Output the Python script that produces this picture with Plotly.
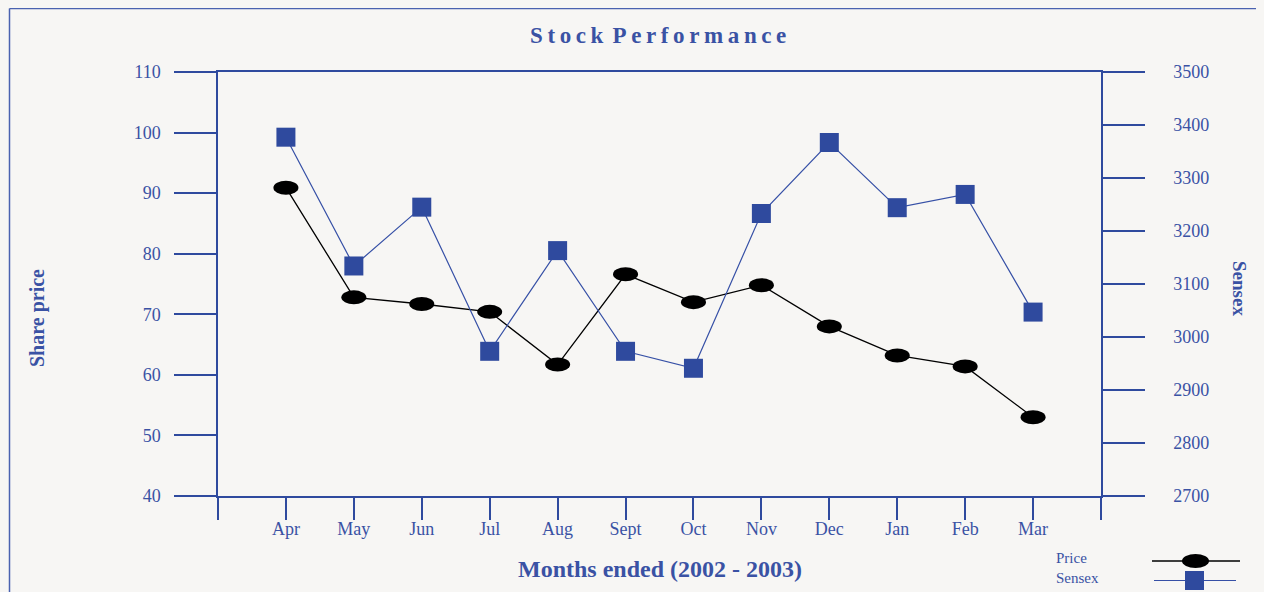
import plotly.graph_objects as go

# data
months = ["Apr", "May", "Jun", "Jul", "Aug", "Sept", "Oct", "Nov", "Dec", "Jan", "Feb", "Mar"]
price = [90.9, 72.8, 71.7, 70.4, 61.7, 76.6, 72.0, 74.8, 68.0, 63.2, 61.4, 53.0]
sensex = [3377, 3134, 3245, 2973, 3163, 2973, 2941, 3233, 3367, 3244, 3269, 3047]
price_ticks = [40, 50, 60, 70, 80, 90, 100, 110]
sensex_ticks = [2700, 2800, 2900, 3000, 3100, 3200, 3300, 3400, 3500]

BLUE = "#2F4A9E"
TXT = "#3A52A4"
BG = "#F7F6F4"
FONT = "Liberation Serif, Times New Roman, serif"

# page body has an 8px margin, so the figure is shrunk/shifted by that
OFF = 8
W, H = 1264 - OFF, 592 - OFF
ML, MT = 218 - OFF, 72 - OFF
PW, PH = 883, 424
MR, MB = W - ML - PW, H - MT - PH


# screen pixel -> paper helpers for the decorations
def px(x):
    return (x - OFF - ML) / PW


def py(y):
    return (MT + PH - (y - OFF)) / PH


idx = list(range(len(months)))

fig = go.Figure()
fig.add_trace(go.Scatter(x=idx, y=price, mode="lines", name="Price",
                         line=dict(color="black", width=1.3)))
fig.add_trace(go.Scatter(x=idx, y=sensex, mode="lines+markers", name="Sensex", yaxis="y2",
                         line=dict(color="#3650A6", width=1.2),
                         marker=dict(symbol="square", size=19, color=BLUE)))

shapes = []
# black ellipse markers for price
for i, v in zip(idx, price):
    shapes.append(dict(type="circle", xref="x", yref="y", xsizemode="pixel", ysizemode="pixel",
                       xanchor=i, yanchor=v, x0=-12.5, x1=12.5, y0=-7, y1=7,
                       fillcolor="black", line=dict(width=0), layer="above"))

# outer frame (top + left visible)
shapes.append(dict(type="line", xref="paper", yref="paper", x0=px(9.5), x1=px(1280),
                   y0=py(8.5), y1=py(8.5), line=dict(color="#4A62B0", width=1.5)))
shapes.append(dict(type="line", xref="paper", yref="paper", x0=px(9.5), x1=px(9.5),
                   y0=py(8.5), y1=py(610), line=dict(color="#4A62B0", width=1.5)))

# hand-made legend (label left, symbol right)
shapes.append(dict(type="line", xref="paper", yref="paper", x0=px(1152), x1=px(1240),
                   y0=py(561), y1=py(561), line=dict(color="black", width=1.3)))
shapes.append(dict(type="circle", xref="paper", yref="paper", x0=px(1182), x1=px(1209),
                   y0=py(554), y1=py(568), fillcolor="black", line=dict(width=0)))
shapes.append(dict(type="line", xref="paper", yref="paper", x0=px(1154), x1=px(1236),
                   y0=py(580.5), y1=py(580.5), line=dict(color="#3650A6", width=1.2)))
shapes.append(dict(type="rect", xref="paper", yref="paper", x0=px(1185), x1=px(1204),
                   y0=py(571), y1=py(590), fillcolor=BLUE, line=dict(width=0)))

sp = "\u2009"
title = (sp * 2).join([sp.join(w) for w in ["Stock", "Performance"]])

annotations = [
    dict(text="<b>" + title + "</b>", x=px(658), y=py(36), font=dict(size=23, color=TXT)),
    dict(text="<b>Share price</b>", x=px(37), y=py(318), textangle=-90, font=dict(size=20, color=TXT)),
    dict(text="<b>Sensex</b>", x=px(1240), y=py(288), textangle=90, font=dict(size=19, color=TXT)),
    dict(text="<b>Months ended (2002 - 2003)</b>", x=px(660), y=py(569), font=dict(size=24, color=TXT)),
    dict(text="Price", x=px(1054), y=py(558), xanchor="left", font=dict(size=15, color=TXT)),
    dict(text="Sensex", x=px(1054), y=py(578), xanchor="left", font=dict(size=15, color=TXT)),
]
for a in annotations:
    a.update(xref="paper", yref="paper", showarrow=False)
    a.setdefault("xanchor", "center")
    a["yanchor"] = "middle"

fig.update_layout(
    width=W, height=H,
    margin=dict(l=ML, r=MR, t=MT, b=MB),
    paper_bgcolor=BG, plot_bgcolor=BG,
    font=dict(family=FONT, color=TXT, size=18),
    showlegend=False,
    shapes=shapes,
    annotations=annotations,
    xaxis=dict(range=[-1, len(months)], tickvals=[-1] + idx + [len(months)],
               ticktext=[""] + months + [""], ticks="outside", ticklen=22, tickwidth=1.5,
               tickcolor=BLUE, showline=True, linecolor=BLUE, linewidth=1.5, mirror=True,
               showgrid=False, zeroline=False, ticklabelstandoff=-6,
               tickfont=dict(size=18, color=TXT)),
    yaxis=dict(range=[40, 110], tickvals=price_ticks, ticks="outside", ticklen=42, tickwidth=1.5,
               tickcolor=BLUE, showline=True, linecolor=BLUE, linewidth=1.5,
               showgrid=False, zeroline=False, ticklabelstandoff=10,
               tickfont=dict(size=18, color=TXT)),
    yaxis2=dict(range=[2700, 3500], tickvals=sensex_ticks, overlaying="y", side="right",
                ticks="outside", ticklen=42, tickwidth=1.5, tickcolor=BLUE, showline=True,
                linecolor=BLUE, linewidth=1.5, showgrid=False, zeroline=False,
                ticklabelstandoff=25, tickfont=dict(size=18, color=TXT)),
)

fig.write_html("out.html",
               post_script="document.body.style.overflow='hidden';"
                           "document.body.style.background='" + BG + "';")
